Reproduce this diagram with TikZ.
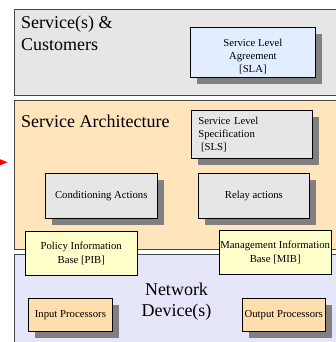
\documentclass[tikz,border=0pt]{standalone}
\usepackage{fontspec}
\setmainfont{Liberation Serif}
\usetikzlibrary{shadows,arrows.meta}
\definecolor{layergray}{RGB}{230,230,230}
\definecolor{layerpeach}{RGB}{255,228,188}
\definecolor{layerlav}{RGB}{230,230,250}
\definecolor{slablue}{RGB}{226,238,255}
\definecolor{boxgray}{RGB}{230,230,230}
\definecolor{pibyellow}{RGB}{255,255,204}
\definecolor{procorange}{RGB}{255,222,173}
\definecolor{shadowgray}{RGB}{128,128,128}
\definecolor{layerborder}{RGB}{70,70,70}
\tikzset{
  layer/.style={draw=layerborder,line width=1.1pt},
  bigtext/.style={font=\fontsize{18}{21.5}\selectfont,inner sep=0pt,anchor=base west},
  smallbox/.style={draw=black,line width=0.8pt,anchor=north west,inner sep=0pt,
    font=\fontsize{10.7}{13.3}\selectfont,align=center},
  smalltext/.style={font=\fontsize{10.7}{13.3}\selectfont,align=center,inner sep=0pt},
  shadowed/.style={drop shadow={shadow xshift=6.5pt,shadow yshift=-6.5pt,fill=shadowgray,opacity=1}},
}
\begin{document}
\begin{tikzpicture}[x=1pt,y=-1pt]
\useasboundingbox (0,0) rectangle (336,342);
\clip (0,0) rectangle (336,342);
% layers
\path[layer,fill=layergray] (14.5,9.5) rectangle (350,95.5);
\path[layer,fill=layerpeach] (14.5,100.5) rectangle (350,249.5);
\path[layer,fill=layerlav] (14.5,254.5) rectangle (350,360);
% layer titles
\node[bigtext] (t1a) at (21,29) {Service(s) \&};
\node[bigtext] (t1b) at (21,50.5) {Customers};
\node[bigtext] (t2) at (21,127.7) {Service Architecture};
\node[bigtext,anchor=base] (t3a) at (176.5,295) {Network};
\node[bigtext,anchor=base] (t3b) at (176.5,316.7) {Device(s)};
% boxes
\node[smallbox,shadowed,fill=slablue,minimum width=125pt,minimum height=50pt,
  label={[smalltext,yshift=-3.5pt]center:Service Level\\Agreement\\{}[SLA]}] (sla) at (190,27.5) {};
\node[smallbox,shadowed,fill=boxgray,minimum width=121pt,minimum height=48.6pt,
  align=left,text width=107pt,inner xsep=7pt] (sls) at (191,109.7)
  {Service Level\\Specification\\\hspace*{2.6pt}[SLS]};
\node[smallbox,shadowed,fill=boxgray,minimum width=111.7pt,minimum height=45pt] (cond) at (45,172.7)
  {Conditioning Actions};
\node[smallbox,shadowed,fill=boxgray,minimum width=111pt,minimum height=45pt] (relay) at (198,172.7)
  {Relay actions};
\node[smallbox,fill=pibyellow,minimum width=111.7pt,minimum height=44pt] (pib) at (25,231)
  {Policy Information\\Base [PIB]};
\node[smallbox,fill=pibyellow,minimum width=111.7pt,minimum height=44.3pt] (mib) at (219,230)
  {Management Information\\Base [MIB]};
\node[smallbox,shadowed,fill=procorange,minimum width=83.4pt,minimum height=32.7pt] (inp) at (28.3,298.3)
  {Input Processors};
\node[smallbox,shadowed,fill=procorange,minimum width=83.3pt,minimum height=32.7pt] (outp) at (241.7,298.3)
  {Output Processors};
% red arrow entering from the left
\coordinate (redstart) at (-30,162.3);
\coordinate (redend) at (7.5,162.3);
\draw[red,line width=0.8pt,-{Triangle[length=9pt,width=7pt]}] (redstart) -- (redend);
\end{tikzpicture}
\end{document}
